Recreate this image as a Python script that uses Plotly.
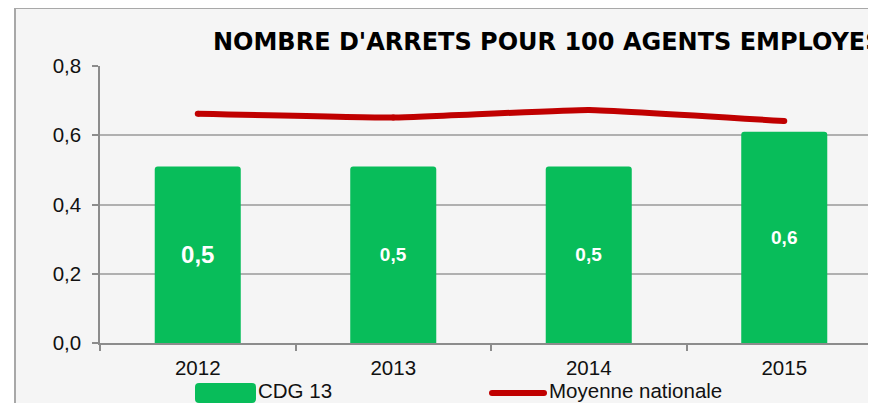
import plotly.graph_objects as go

# ---- data ----
years = ["2012", "2013", "2014", "2015"]
cdg13 = [0.51, 0.51, 0.51, 0.61]
moyenne_nationale = [0.662, 0.651, 0.673, 0.641]
series_names = ["CDG 13", "Moyenne nationale"]
title_text = "NOMBRE D'ARRETS POUR 100 AGENTS EMPLOYES"
y_ticks = [0.0, 0.2, 0.4, 0.6, 0.8]
label_sizes = [24, 19, 19, 19]

# page is drawn with an 8px body margin; work in page pixels and convert
OFF = 8
PAGE_W, PAGE_H = 876, 411
W, H = PAGE_W - 2 * OFF, PAGE_H - 2 * OFF
PLOT_L, PLOT_T, PLOT_B = 100, 66, 343          # page pixels
L, T = PLOT_L - OFF, PLOT_T - OFF
B = H - (PLOT_B - OFF)
PW = W - L
PH = H - T - B
cat_px = 195.5

GREEN = "#08bd5a"
RED = "#c00000"
FONT = "Arial, Liberation Sans, sans-serif"
TFONT = "DejaVu Sans, Arial, sans-serif"


def px_x(p):
    return (p - PLOT_L) / PW


def px_y(p):
    return (PLOT_B - p) / PH


def rounded_rect(x0, y0, x1, y1, r):
    # x/y in page pixels -> path in paper coords
    X = px_x
    Y = px_y
    return (f"M {X(x0 + r)},{Y(y0)} L {X(x1 - r)},{Y(y0)} "
            f"Q {X(x1)},{Y(y0)} {X(x1)},{Y(y0 + r)} L {X(x1)},{Y(y1 - r)} "
            f"Q {X(x1)},{Y(y1)} {X(x1 - r)},{Y(y1)} L {X(x0 + r)},{Y(y1)} "
            f"Q {X(x0)},{Y(y1)} {X(x0)},{Y(y1 - r)} L {X(x0)},{Y(y0 + r)} "
            f"Q {X(x0)},{Y(y0)} {X(x0 + r)},{Y(y0)} Z")


fig = go.Figure()
fig.add_trace(go.Bar(
    x=years, y=cdg13, name=series_names[0],
    marker=dict(color=GREEN, cornerradius=3, line=dict(width=0)),
    width=0.44,
    texttemplate="%{y:.1f}", textposition="inside",
    insidetextanchor="middle",
    textfont=dict(color="white", size=label_sizes, family=FONT, weight="bold"),
    showlegend=False,
))
fig.add_trace(go.Scatter(
    x=years, y=moyenne_nationale, name=series_names[1], mode="lines+markers",
    line=dict(color=RED, width=6, shape="spline", smoothing=0.3),
    marker=dict(color=RED, size=6, line=dict(width=0)),
    showlegend=False,
))

shapes = [
    # chart area background + border
    dict(type="rect", xref="paper", yref="paper", layer="below",
         x0=px_x(15), x1=px_x(PAGE_W + 20), y0=px_y(PAGE_H + 20), y1=px_y(8),
         fillcolor="#f5f5f5", line=dict(color="#a8a8a8", width=2)),
    dict(type="rect", xref="paper", yref="paper", layer="below",
         x0=px_x(686), x1=px_x(PAGE_W + 5), y0=px_y(7), y1=px_y(-5),
         fillcolor="#f0f0f2", line=dict(width=0)),
    # legend keys
    dict(type="path", xref="paper", yref="paper", layer="above",
         path=rounded_rect(195, 383, 256, 403, 4),
         fillcolor=GREEN, line=dict(width=0)),
    dict(type="path", xref="paper", yref="paper", layer="above",
         path=rounded_rect(489, 390, 547, 396, 3),
         fillcolor=RED, line=dict(width=0)),
]

annotations = [
    dict(xref="paper", yref="paper", x=px_x(256), y=px_y(390.5),
         xanchor="left", yanchor="middle", showarrow=False,
         text=series_names[0], font=dict(size=20.5, color="#111", family=FONT)),
    dict(xref="paper", yref="paper", x=px_x(547), y=px_y(390.5),
         xanchor="left", yanchor="middle", showarrow=False,
         text=series_names[1], font=dict(size=20.5, color="#111", family=FONT)),
]

fig.update_layout(
    width=W, height=H,
    margin=dict(l=L, r=0, t=T, b=B, pad=0),
    paper_bgcolor="white",
    plot_bgcolor="rgba(0,0,0,0)",
    separators=",.",
    font=dict(family=FONT, color="#111"),
    title=dict(text=title_text, x=(213 - OFF) / W, xanchor="left", xref="container",
               y=1 - (42 - OFF) / H, yanchor="middle", yref="container",
               font=dict(size=24, family=TFONT, color="black", weight="bold")),
    shapes=shapes,
    annotations=annotations,
    showlegend=False,
    xaxis=dict(
        type="category", range=[-0.5, -0.5 + PW / cat_px],
        showgrid=False, showline=True, linecolor="#8c8c8c", linewidth=1.5,
        ticks="outside", tickson="boundaries", ticklen=6, tickcolor="#8c8c8c",
        tickwidth=1.5, tickfont=dict(size=20.5, family=FONT, color="#111"),
        ticklabelstandoff=6, fixedrange=True,
    ),
    yaxis=dict(
        range=[0, 0.8], tickvals=y_ticks, tickformat=".1f",
        showgrid=True, gridcolor="#b0b0b0", gridwidth=1.5,
        showline=True, linecolor="#8c8c8c", linewidth=1.5,
        ticks="outside", ticklen=6, tickcolor="#8c8c8c", tickwidth=1.5,
        tickfont=dict(size=20.5, family=FONT, color="#111"),
        ticklabelstandoff=7, zeroline=False, fixedrange=True,
    ),
)

fig.write_html("out.html", config={"displayModeBar": False})
